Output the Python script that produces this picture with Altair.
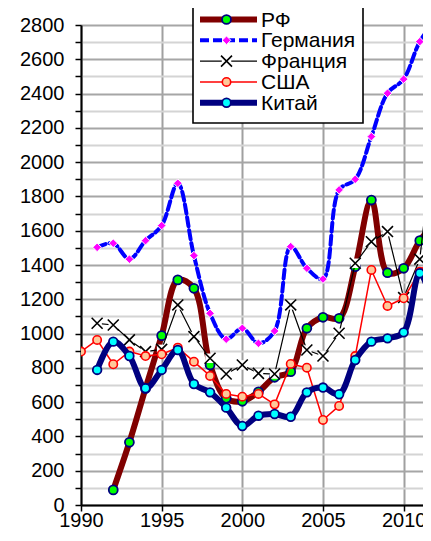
import altair as alt
import pandas as pd

years = list(range(1990, 2013))
series_names = ["РФ", "Германия", "Франция", "США", "Китай"]
rf = [None, None, 88, 366, 680, 988, 1313, 1264, 817, 622, 605, 660, 745, 778, 1031, 1095, 1089, 1390, 1779, 1355, 1381, 1542, 1650]
germany = [None, 1503, 1527, 1434, 1542, 1630, 1877, 1455, 1118, 967, 1031, 943, 1015, 1507, 1381, 1318, 1838, 1900, 2149, 2402, 2484, 2703, 2830]
france = [None, 1060, 1050, 963, 895, 908, 1167, 982, 856, 764, 817, 768, 764, 1167, 904, 869, 1002, 1410, 1536, 1595, 1210, 1434, 2260]
usa = [895, 963, 821, 895, 869, 879, 918, 836, 753, 648, 632, 648, 587, 823, 801, 496, 578, 869, 1371, 1161, 1206, 1360, 1480]
china = [None, 788, 953, 869, 681, 788, 904, 706, 657, 568, 461, 521, 531, 515, 657, 685, 646, 846, 953, 972, 1007, 1352, 1100]
x_ticks = [1990, 1995, 2000, 2005, 2010]
y_ticks = list(range(0, 2801, 100))

values = {"РФ": rf, "Германия": germany, "Франция": france, "США": usa, "Китай": china}
rows = []
for name in series_names:
    for yr, v in zip(years, values[name]):
        if v is not None:
            rows.append({"series": name, "year": yr, "value": v})
df = pd.DataFrame(rows)

FONT = "Liberation Sans"
XPATH = "M-1,-1L1,1M-1,1L1,-1"

styles = {
    "РФ": dict(line=dict(color="#800000", strokeWidth=6, interpolate="catmull-rom"),
               marks=[dict(shape="circle", filled=True, fill="#00FF00", stroke="#000080", strokeWidth=1.8, size=80, opacity=1)]),
    "Германия": dict(line=dict(color="#0000FF", strokeWidth=4, strokeDash=[9, 4], interpolate="catmull-rom"),
                     marks=[dict(shape="diamond", filled=True, fill="#FF00FF", stroke="white", strokeWidth=1, size=75, opacity=1)]),
    "Франция": dict(line=dict(color="black", strokeWidth=1.2, interpolate="linear"),
                    marks=[dict(shape="square", filled=True, fill="white", strokeWidth=0, size=90, opacity=1),
                           dict(shape=XPATH, filled=False, stroke="black", strokeWidth=1.6, size=120, opacity=1)]),
    "США": dict(line=dict(color="#FF0000", strokeWidth=1.5, interpolate="linear"),
                marks=[dict(shape="circle", filled=True, fill="#FFC89A", stroke="#FF0000", strokeWidth=1.6, size=70, opacity=1)]),
    "Китай": dict(line=dict(color="#000080", strokeWidth=6, interpolate="catmull-rom"),
                  marks=[dict(shape="circle", filled=True, fill="#00FFFF", stroke="#000080", strokeWidth=1.8, size=75, opacity=1)]),
}

x_enc = alt.X("year:Q", title="",
              scale=alt.Scale(domain=[1990, 2011.2], nice=False, zero=False),
              axis=alt.Axis(values=x_ticks, format="d", grid=True, gridColor="#a0a0a0", gridWidth=2,
                            labelPadding=-1, labelFlush=False, tickSize=6, labelFontSize=20))
y_enc = alt.Y("value:Q", title="",
              scale=alt.Scale(domain=[0, 2800], nice=False),
              axis=alt.Axis(values=y_ticks, format="d", grid=True,
                            gridColor={"condition": {"test": "datum.value % 200 === 0", "value": "#a6a6a6"}, "value": "#d4d4d4"},
                            gridWidth=1.8,
                            labelExpr="datum.value % 200 === 0 ? datum.label : ''",
                            labelPadding=11, tickSize=6))

layers = []
for name in series_names:
    st = styles[name]
    b = alt.Chart(df).transform_filter(alt.datum.series == name)
    layers.append(b.mark_line(clip=True, strokeJoin="round", strokeCap="round", **st["line"]).encode(x=x_enc, y=y_enc))
    for m in st["marks"]:
        layers.append(b.mark_point(clip=True, **m).encode(x=x_enc, y=y_enc))

# legend (pixel layout relative to plot origin)
one = pd.DataFrame({"k": [0]})
layers.append(alt.Chart(one).mark_rect(fill="white", stroke="black", strokeWidth=1.6).encode(
    x=alt.value(112), x2=alt.value(282), y=alt.value(-20), y2=alt.value(98)))
for i, name in enumerate(series_names):
    st = styles[name]
    yy = -5.5 + 20.8 * i
    ld = pd.DataFrame({"series": [name]})
    lstyle = {k: v for k, v in st["line"].items() if k != "interpolate"}
    layers.append(alt.Chart(ld).mark_rule(strokeCap="butt", **lstyle).encode(
        x=alt.value(119), x2=alt.value(176), y=alt.value(yy)))
    for m in st["marks"]:
        layers.append(alt.Chart(ld).mark_point(**m).encode(x=alt.value(145.5), y=alt.value(yy)))
    layers.append(alt.Chart(ld).mark_text(font=FONT, fontSize=21, align="left", baseline="middle", color="black").encode(
        x=alt.value(180), y=alt.value(yy + 1), text="series:N"))

chart = alt.layer(*layers).properties(
    width=342, height=480,
    padding={"left": 73, "top": 17, "right": 0, "bottom": 24},
    autosize=alt.AutoSizeParams(type="none"),
    background="white",
).configure_axis(
    labelFont=FONT, labelFontSize=20, labelColor="black",
    domainColor="black", domainWidth=2, tickColor="black", tickWidth=1.5,
).configure_view(stroke="transparent")

chart.save("out.html", embed_options={"renderer": "svg", "actions": False})
